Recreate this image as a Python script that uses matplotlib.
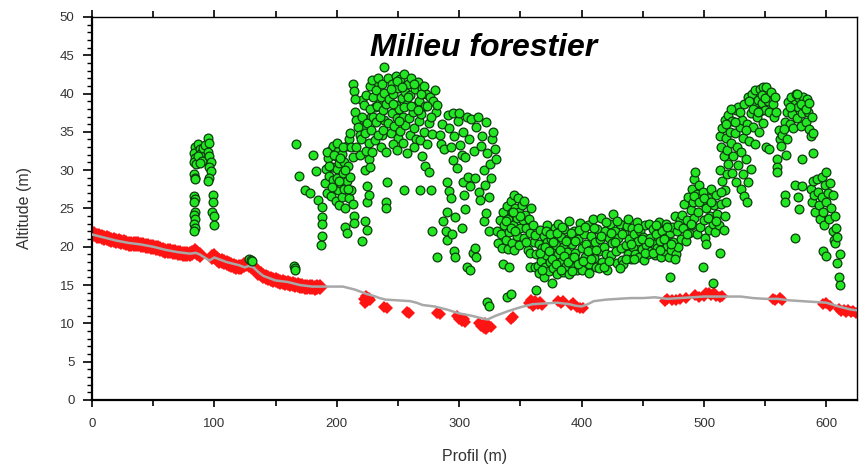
import matplotlib
matplotlib.use("Agg")
import matplotlib.pyplot as plt
from matplotlib.ticker import MultipleLocator

plt.rcParams['font.family'] = ['Liberation Sans', 'DejaVu Sans']

# --- terrain profile (gray line) ---
terrain_x = [0, 10, 20, 30, 40, 50, 60, 70, 80, 85, 88, 92, 96, 100, 105, 110, 115, 120, 125, 128,
             132, 136, 140, 145, 150, 155, 160, 165, 170, 175, 180, 185, 190, 195, 200, 205, 210, 215, 220, 225,
             230, 235, 240, 250, 260, 265, 270, 280, 290, 300, 310, 320, 323, 330, 340, 350, 360, 370, 380, 390,
             395, 400, 405, 410, 420, 430, 440, 450, 460, 470, 480, 490, 500, 510, 520, 530, 540, 550, 560, 570,
             580, 590, 600, 610, 620, 625]
terrain_y = [21.6, 21.2, 20.8, 20.5, 20.3, 20.0, 19.6, 19.3, 19.1, 19.2, 19.0, 18.6, 18.2, 18.6, 18.3, 18.0, 17.8, 17.6, 17.3, 17.5,
             17.3, 16.7, 16.2, 15.9, 15.6, 15.5, 15.4, 15.2, 15.0, 14.9, 14.8, 14.8, 14.8, 14.8, 14.8, 14.8, 14.6, 14.4, 14.1, 13.8,
             13.6, 13.3, 13.1, 13.0, 12.9, 12.7, 12.4, 12.2, 11.8, 11.3, 11.0, 10.6, 10.5, 11.0, 11.6, 12.1, 12.5, 12.6, 12.7, 12.5,
             12.3, 12.2, 12.5, 12.9, 13.1, 13.2, 13.3, 13.3, 13.4, 13.2, 13.3, 13.4, 13.5, 13.5, 13.5, 13.5, 13.3, 13.2, 13.2, 13.0,
             12.9, 12.8, 12.7, 12.2, 11.8, 11.7]

# --- ground points (red) ---
ground1_x = [0, 2, 4, 6, 8, 10, 12, 14, 16, 18, 20, 22, 24, 26, 28, 30, 32, 34, 36, 38, 40, 42, 44,
             46, 48, 50, 52, 54, 56, 58, 60, 62, 64, 66, 68, 70, 72, 74, 76, 78, 80, 82, 84, 86, 88]
ground1_y = [21.7, 21.6, 21.4, 21.4, 21.3, 21.2, 21.1, 21.0, 20.9, 20.9, 20.8, 20.7, 20.6, 20.6, 20.5, 20.4, 20.4, 20.3, 20.3, 20.3, 20.2, 20.2, 20.1,
             20.1, 20.0, 20.0, 19.9, 19.8, 19.7, 19.6, 19.5, 19.5, 19.4, 19.3, 19.3, 19.2, 19.2, 19.1, 19.1, 19.1, 19.1, 19.2, 19.4, 19.2, 18.9]
ground2_x = [98, 100, 102, 104, 106, 108, 110, 112, 114, 116, 118, 120, 122, 124, 126, 128, 130, 132, 134, 136, 138, 140, 142,
             144, 146, 148, 150, 152, 154, 156, 158, 160, 162, 164, 166, 168, 170, 172, 174, 176, 178, 180, 182, 184, 186]
ground2_y = [18.7, 18.8, 18.4, 18.2, 18.1, 18.0, 17.9, 17.8, 17.6, 17.5, 17.4, 17.4, 17.3, 17.6, 17.7, 17.6, 17.5, 17.2, 16.9, 16.6, 16.4, 16.2, 16.0,
             15.9, 15.8, 15.7, 15.6, 15.5, 15.4, 15.4, 15.3, 15.3, 15.2, 15.1, 15.0, 15.0, 14.9, 14.9, 14.8, 14.8, 14.7, 14.7, 14.6, 14.7, 14.8]
ground3_x = [222, 223, 224, 225, 226, 227, 239, 241, 257, 259, 282, 284,
             298, 300, 302, 304, 305, 316, 318, 320, 321, 322, 324, 326, 342, 344,
             357, 359, 360, 362, 364, 366, 368, 381, 383, 385, 391, 393, 396, 399, 401,
             468, 470, 474, 477, 480, 485, 493, 496, 500, 502, 504, 506, 508, 510, 513, 515,
             556, 558, 562, 564, 597, 600, 603, 610, 612, 614, 616, 618, 620, 622, 624]
ground3_y = [13.2, 12.7, 13.6, 12.9, 13.3, 13.0, 12.1, 12.0, 11.5, 11.4, 11.3, 11.2,
             10.9, 10.6, 10.3, 10.6, 10.2, 10.0, 9.6, 9.4, 10.0, 9.3, 9.6, 9.5, 10.6, 10.8,
             12.6, 13.0, 12.3, 12.9, 12.5, 12.8, 12.4, 12.9, 12.7, 12.9, 12.4, 12.6, 12.2, 12.0, 12.0,
             12.9, 13.2, 13.1, 13.0, 13.2, 13.3, 13.7, 13.5, 13.6, 13.9, 14.0, 13.7, 13.9, 13.6, 13.5, 13.6,
             13.2, 13.0, 13.3, 13.0, 12.5, 12.7, 12.3, 11.9, 11.6, 11.7, 11.5, 11.8, 11.5, 11.6, 11.4]

# --- vegetation points (green) ---
veg_a = [(84, 33.0), (83, 32.3), (84, 31.6), (83, 31.0), (85, 30.8), (83, 29.5), (84, 29.0), (84, 28.8), (83, 26.6),
         (84, 26.2), (83, 25.9), (84, 24.6), (83, 24.1), (84, 23.6), (83, 23.0), (84, 22.5), (83, 22.1),
         (87, 33.4), (88, 32.8), (89, 32.2), (87, 31.8), (90, 31.2), (88, 30.9), (91, 32.9), (92, 33.3),
         (95, 34.2), (96, 33.6), (95, 32.4), (96, 31.8), (97, 31.1), (96, 30.4), (97, 29.9), (96, 29.0),
         (95, 28.6), (99, 26.8), (99, 25.8), (98, 24.5), (100, 24.0), (100, 22.9),
         (128, 18.4), (130, 18.3), (131, 18.2), (165, 17.5), (166, 17.2), (166, 16.9)]

veg_b = [(167, 33.4), (169, 29.3), (174, 27.4), (178, 27.0), (181, 32.0), (183, 29.9), (185, 26.1), (188, 25.2),
         (188, 23.9), (188, 23.0), (188, 21.4), (187, 20.2),
         (190, 28.3), (191, 30.1), (192, 27.0), (193, 31.6), (194, 29.2), (195, 32.6), (195, 26.6), (196, 30.4),
         (197, 33.1), (197, 28.7), (198, 27.7), (199, 31.8), (199, 26.0), (200, 30.1), (200, 29.0), (201, 32.5),
         (201, 27.4), (202, 25.4), (202, 30.9), (203, 28.3), (204, 32.1), (204, 26.5), (205, 29.6), (206, 27.6),
         (206, 31.0), (207, 25.1), (208, 28.6), (208, 33.2), (209, 30.5), (210, 26.3), (210, 34.1), (211, 29.1),
         (211, 34.9), (212, 27.4), (213, 25.6), (213, 31.7),
         (192, 32.4), (194, 30.6), (196, 27.8), (198, 32.0), (200, 33.6), (202, 28.6), (203, 31.6), (205, 33.0),
         (207, 30.0), (209, 27.6), (212, 33.0), (216, 33.0), (218, 36.4), (221, 39.2), (222, 35.6), (226, 31.4),
         (228, 37.0), (231, 38.2), (233, 41.2), (235, 39.2), (237, 34.6), (239, 36.6),
         (207, 22.6), (208, 21.8), (214, 24.0), (214, 23.1), (221, 20.7), (223, 23.3), (225, 22.2),
         (213, 41.2), (214, 40.3), (215, 39.3), (215, 37.6), (216, 36.6), (217, 35.6),
         (219, 34.6), (219, 32.0), (220, 34.0), (221, 37.0), (222, 38.5), (223, 34.9), (223, 30.0), (224, 32.5),
         (224, 39.8), (225, 27.9), (225, 25.8), (225, 36.1), (226, 26.8), (226, 33.5), (227, 41.0), (227, 38.0),
         (227, 30.4), (228, 35.2), (229, 32.4), (229, 41.8), (230, 39.5), (230, 37.0), (231, 33.9), (232, 36.3),
         (232, 40.5), (233, 38.4), (234, 34.6), (234, 42.0), (235, 36.9), (236, 39.6), (236, 33.0), (237, 41.2),
         (238, 37.8), (238, 35.3), (239, 43.4), (239, 40.1), (240, 38.6), (240, 32.4), (241, 28.4), (240, 25.9),
         (240, 25.1)]

veg_c = [(242, 42.0), (242, 36.1), (243, 39.3), (244, 34.8), (245, 41.3), (245, 37.4), (246, 40.0), (247, 35.7),
         (248, 38.5), (248, 42.3), (249, 36.8), (250, 40.7), (250, 34.2), (251, 38.0), (252, 41.9), (252, 35.1),
         (253, 39.4), (254, 37.0), (254, 33.6), (255, 42.5), (255, 27.4), (256, 40.2), (256, 35.9), (257, 32.3),
         (257, 38.6), (258, 41.3), (259, 36.8), (260, 34.6), (260, 39.8), (261, 42.0), (262, 37.6), (263, 35.5),
         (264, 40.6), (264, 38.4), (265, 34.0), (266, 41.5), (267, 36.4), (267, 39.0), (268, 33.9), (268, 27.4),
         (269, 37.3), (270, 40.7), (270, 31.8), (271, 35.0), (272, 38.4), (272, 30.5), (273, 40.0), (274, 33.4),
         (275, 36.2), (275, 29.7), (276, 39.5), (277, 27.4), (278, 22.0), (278, 34.7), (279, 39.0), (280, 40.5),
         (281, 37.6), (282, 38.5), (282, 18.7),
         (244, 40.6), (246, 38.6), (249, 41.6), (251, 36.4), (253, 40.8), (255, 38.2), (258, 39.6), (261, 38.4),
         (263, 41.2), (266, 37.8), (269, 40.0), (271, 41.0), (274, 38.4), (277, 37.0), (263, 33.0), (246, 33.4),
         (249, 32.6),
         (284, 34.6), (285, 33.4), (286, 36.0), (287, 23.3), (288, 32.7), (289, 22.0), (290, 28.5), (290, 24.6),
         (290, 20.9), (291, 37.2), (292, 27.3), (292, 35.5), (293, 33.0), (293, 26.4), (294, 21.6), (295, 31.3),
         (295, 37.5), (296, 19.4), (296, 34.5), (297, 23.9), (297, 18.6), (298, 30.3), (299, 36.4), (300, 37.5),
         (301, 33.3), (302, 22.5), (302, 32.0), (303, 28.4), (303, 35.0), (304, 26.8), (305, 31.7), (305, 24.9),
         (306, 17.3), (306, 37.0), (307, 29.1), (308, 34.0), (309, 17.0), (309, 27.9), (310, 36.7), (311, 19.2),
         (312, 32.5), (313, 29.0), (313, 19.9), (314, 35.6), (314, 18.7), (315, 37.0), (316, 27.2), (317, 26.1),
         (318, 33.2), (319, 34.5), (320, 30.0), (320, 23.3), (321, 28.0), (322, 36.3), (322, 24.4), (323, 32.2),
         (324, 22.0), (324, 26.5), (325, 30.8), (326, 29.0), (327, 34.0), (328, 35.0), (329, 32.8), (330, 31.4),
         (323, 12.8), (324, 12.3), (339, 13.5), (342, 13.8), (336, 17.7), (341, 17.3)]

veg_d = [(331, 22.0), (332, 20.5), (333, 23.5), (334, 21.6), (335, 19.8), (336, 24.5), (337, 22.8), (338, 20.9),
         (339, 25.3), (340, 23.6), (340, 19.7), (341, 21.9), (342, 26.0), (343, 24.5), (343, 20.5), (344, 22.8),
         (345, 26.8), (345, 19.6), (346, 25.1), (347, 21.4), (347, 23.7), (348, 26.3), (349, 24.6), (349, 20.2),
         (350, 22.4), (351, 25.4), (352, 23.5), (353, 21.1), (354, 24.2), (355, 22.5), (356, 19.6), (357, 23.6),
         (358, 19.2), (358, 21.8), (359, 25.0), (360, 22.9), (361, 20.6), (358, 17.3), (362, 17.3), (363, 14.4),
         (338, 23.4), (342, 22.4), (346, 22.0), (350, 24.0), (353, 26.0), (355, 20.6), (344, 24.6)]

veg_e = [(362, 21.5), (363, 19.0), (364, 17.5), (365, 20.3), (365, 16.6), (366, 22.2), (367, 18.2), (368, 19.8),
         (369, 16.0), (369, 21.4), (370, 17.4), (371, 18.9), (372, 20.6), (372, 22.8), (373, 16.8), (374, 18.0),
         (375, 19.5), (375, 21.0), (376, 15.3), (377, 17.2), (378, 22.5), (378, 18.6), (379, 20.2), (380, 16.5),
         (381, 19.0), (381, 23.0), (382, 17.6), (383, 21.3), (384, 18.2), (385, 16.7), (385, 20.0), (386, 22.3),
         (387, 17.5), (388, 19.3), (389, 21.0), (390, 16.4), (390, 23.3), (391, 18.5), (392, 20.4), (393, 17.4),
         (394, 22.0), (395, 19.2), (396, 16.9), (397, 21.0), (398, 18.0), (399, 23.1), (400, 19.8), (400, 17.0),
         (402, 21.6), (403, 18.6), (404, 20.4), (405, 22.8), (406, 17.8), (407, 19.6), (408, 21.4), (409, 23.6),
         (410, 18.5), (411, 20.6), (412, 17.4), (413, 22.3), (414, 19.4), (415, 21.0), (416, 23.8), (417, 18.0),
         (418, 20.0), (419, 22.1), (420, 19.1), (421, 16.9), (422, 21.2), (423, 23.0), (424, 18.9), (425, 20.5),
         (426, 24.3), (427, 22.0), (428, 19.4), (429, 17.9), (430, 21.1), (431, 23.0), (432, 19.8), (433, 18.3),
         (434, 17.7), (435, 21.8), (436, 20.2), (437, 22.7), (438, 19.0), (439, 21.0), (440, 18.4),
         (441, 22.5), (442, 20.0), (443, 21.6), (444, 19.0), (445, 23.2), (446, 20.8), (447, 18.6), (448, 22.0),
         (449, 19.7), (450, 21.3), (451, 18.3), (452, 22.8), (453, 20.2), (454, 19.0), (455, 23.0), (456, 21.1),
         (457, 19.5), (458, 22.3), (459, 20.4), (460, 18.9), (461, 21.6), (462, 19.9), (463, 23.2), (464, 20.8),
         (465, 18.7), (466, 22.0), (467, 19.4), (468, 21.2), (469, 23.0), (470, 20.1), (471, 18.6), (472, 16.1),
         (472, 21.8), (473, 19.6), (474, 22.6), (475, 20.6), (476, 24.0), (477, 19.0), (478, 22.0), (479, 20.0),
         (480, 23.5),
         (366, 19.2), (368, 17.0), (370, 20.0), (371, 22.0), (373, 19.4), (374, 21.6), (376, 18.4), (377, 20.6),
         (379, 17.8), (380, 21.8), (382, 19.6), (383, 17.0), (384, 22.6), (386, 18.8), (387, 20.8), (389, 18.0),
         (391, 21.8), (392, 16.8), (394, 18.6), (395, 20.8), (397, 17.8), (398, 22.2), (401, 18.2), (403, 22.6),
         (405, 19.4), (406, 16.6), (408, 18.4), (410, 22.4), (412, 19.6), (414, 17.2), (416, 21.4), (418, 17.4),
         (420, 23.2), (422, 18.2), (424, 21.8), (427, 20.6), (429, 23.4), (431, 17.2), (433, 21.6), (436, 18.4),
         (438, 23.6), (440, 20.4), (443, 18.4), (446, 22.4), (449, 21.0), (452, 19.2), (455, 20.6), (458, 19.2),
         (461, 22.8), (464, 19.6), (467, 21.0), (470, 22.6), (473, 20.4), (476, 18.4), (479, 22.8)]

veg_f = [(481, 21.0), (482, 24.2), (483, 22.4), (484, 25.6), (485, 20.8), (486, 23.5), (487, 26.5), (488, 21.8),
         (489, 24.8), (490, 27.6), (490, 22.9), (491, 25.8), (492, 28.8), (492, 23.8), (493, 29.8), (494, 26.9),
         (494, 21.6), (495, 24.6), (496, 28.0), (497, 22.6), (498, 25.8), (499, 27.2), (499, 17.3), (500, 23.5),
         (501, 21.2), (502, 20.3), (502, 25.0), (503, 26.4), (504, 22.2), (505, 24.0), (506, 27.6), (507, 15.3),
         (507, 23.0), (508, 25.4), (509, 21.9), (510, 26.7), (511, 24.3), (512, 22.8), (513, 30.0), (513, 19.2),
         (514, 25.6), (515, 28.6), (516, 22.2), (517, 27.4), (518, 25.8), (519, 29.5),
         (486, 21.6), (489, 23.0), (492, 26.6), (496, 25.8), (500, 26.4), (503, 23.8), (506, 25.8), (510, 23.4),
         (514, 27.2), (517, 24.0)]

veg_g = [(513, 34.4), (514, 33.0), (515, 35.5), (516, 31.8), (517, 36.6), (518, 34.2), (519, 32.6), (520, 37.2),
         (520, 30.8), (521, 35.0), (522, 33.5), (523, 36.4), (523, 29.6), (524, 31.9), (525, 34.8), (526, 37.8),
         (526, 28.5), (527, 33.0), (528, 38.3), (528, 30.7), (529, 35.6), (530, 27.6), (530, 32.4), (531, 36.6),
         (532, 29.5), (532, 34.2), (533, 38.6), (533, 26.6), (534, 31.4), (535, 36.0), (535, 25.9), (536, 39.6),
         (536, 28.4), (537, 33.8), (538, 37.4), (538, 30.2), (539, 40.0), (540, 35.6), (541, 38.6), (542, 33.4),
         (542, 40.5), (543, 36.9), (544, 39.2), (545, 35.0), (546, 40.6), (546, 37.7), (547, 38.8), (548, 40.9),
         (548, 36.2), (549, 39.6), (550, 37.9), (551, 40.8), (551, 33.0), (552, 39.0), (553, 37.6), (553, 32.8),
         (518, 36.0), (522, 38.0), (525, 36.3), (529, 37.6), (534, 35.2), (537, 39.0), (540, 38.0), (544, 37.6),
         (547, 39.8), (550, 39.4)]

veg_h = [(555, 40.2), (556, 38.6), (557, 36.9), (558, 39.5), (559, 37.6), (560, 31.4), (560, 30.4), (560, 29.7),
         (561, 35.3), (562, 34.0), (563, 33.2), (564, 34.6), (566, 26.8), (566, 25.9), (566, 36.3), (567, 32.0),
         (568, 34.0), (568, 37.6), (569, 38.9), (570, 36.0), (571, 39.5), (572, 37.3), (573, 35.5), (574, 28.0),
         (574, 21.2), (574, 38.6), (575, 39.9), (576, 36.8), (577, 26.5), (577, 38.3), (578, 24.9), (578, 39.4),
         (579, 35.8), (580, 27.9), (580, 31.5), (580, 37.5), (581, 39.6), (582, 38.4), (583, 36.3), (584, 39.3),
         (585, 37.6), (586, 35.4), (587, 34.4), (588, 37.0), (589, 32.3), (589, 34.8),
         (570, 38.2), (576, 40.0), (579, 38.6), (583, 38.0), (586, 38.8), (565, 35.4)]

veg_i = [(587, 27.5), (588, 25.9), (589, 28.6), (590, 26.8), (591, 24.6), (592, 28.9), (593, 27.2), (594, 25.4),
         (595, 23.6), (596, 29.1), (596, 26.5), (597, 19.4), (597, 24.5), (598, 22.8), (599, 28.0), (600, 29.7),
         (600, 18.8), (600, 25.9), (601, 27.0), (602, 23.6), (603, 28.3), (604, 25.0), (605, 22.0), (605, 26.7),
         (606, 20.9), (607, 24.0), (607, 20.5), (608, 22.5), (609, 17.9), (609, 21.3), (610, 16.1), (611, 15.0),
         (611, 19.0)]

fig, ax = plt.subplots(figsize=(8.59, 4.70), dpi=100)
fig.subplots_adjust(left=0.107, right=0.9977, bottom=0.149, top=0.964)

# ground (red): continuous strips first, then the scattered patches
for gx, gy, ms in [(ground1_x, ground1_y, 8), (ground2_x, ground2_y, 8), (ground3_x, ground3_y, 6.5)]:
    ax.plot(gx, gy, linestyle='none', marker='D', markersize=ms, color='#ff1414',
            markeredgewidth=0, zorder=2)

ax.plot(terrain_x, terrain_y, color='#a8a8a8', linewidth=1.8, zorder=3)

for grp in [veg_a, veg_b, veg_c, veg_d, veg_e, veg_f, veg_g, veg_h, veg_i]:
    xs = [p[0] for p in grp]
    ys = [p[1] for p in grp]
    ax.scatter(xs, ys, s=40, facecolor='#22e622', edgecolor='#0c3c0c',
               linewidth=0.9, zorder=4)

ax.set_xlim(0, 625)
ax.set_ylim(0, 50)

ax.xaxis.set_major_locator(MultipleLocator(100))
ax.xaxis.set_minor_locator(MultipleLocator(50))
ax.yaxis.set_major_locator(MultipleLocator(5))
ax.yaxis.set_minor_locator(MultipleLocator(1))

ax.tick_params(axis='y', which='major', direction='out', length=6.5, width=1.2,
               labelsize=9.5, pad=6, labelcolor='#333333')
ax.tick_params(axis='y', which='minor', direction='out', length=3.5, width=1.0)
ax.tick_params(axis='x', which='major', direction='out', length=5, width=1.2,
               labelsize=9.5, pad=8, labelcolor='#333333', top=True)
ax.tick_params(axis='x', which='minor', direction='out', length=4, width=1.2, top=True)

ax.spines['left'].set_linewidth(1.6)
ax.spines['bottom'].set_linewidth(1.6)
ax.spines['top'].set_linewidth(1.0)
ax.spines['right'].set_linewidth(1.0)

ax.set_xlabel('Profil (m)', fontsize=11.5, color='#333333', labelpad=14)
ax.set_ylabel('Altitude (m)', fontsize=11.5, color='#333333', labelpad=20)

ax.text(0.512, 0.92, 'Milieu forestier', transform=ax.transAxes, ha='center', va='center',
        fontsize=23, fontweight='bold', fontstyle='italic', color='black', zorder=5)

plt.savefig('out.png', dpi=100)
